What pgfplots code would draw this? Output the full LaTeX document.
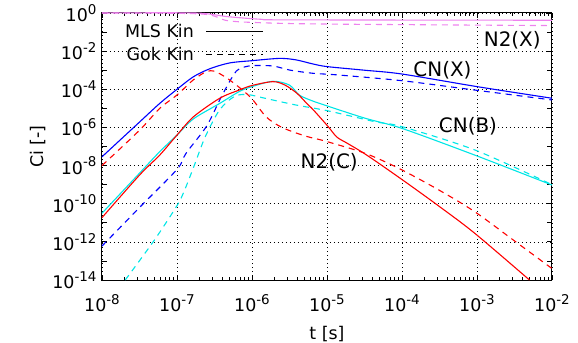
\documentclass[border=0pt]{standalone}
\usepackage{fontspec}
\setmainfont{DejaVu Sans}
\usepackage{pgfplots}
\pgfplotsset{compat=1.18}
\definecolor{cblue}{RGB}{0,0,255}
\definecolor{ccyan}{RGB}{0,230,230}
\definecolor{cred}{RGB}{255,0,0}
\definecolor{cviolet}{RGB}{238,130,238}
\newcommand\tl[1]{10\raisebox{0.42em}{\fontsize{13.5}{14}\selectfont #1}}
\begin{document}
\begin{tikzpicture}[font=\fontsize{17.5}{20}\selectfont]
\begin{axis}[
  scale only axis, width=450bp, height=267bp,
  xmode=log, ymode=log,
  xmin=1e-8, xmax=1e-2, ymin=1e-14, ymax=1,
  xtick={1e-8,1e-7,1e-6,1e-5,1e-4,1e-3,1e-2},
  xticklabels={\tl{-8},\tl{-7},\tl{-6},\tl{-5},\tl{-4},\tl{-3},\tl{-2}},
  ytick={1e-14,1e-12,1e-10,1e-8,1e-6,1e-4,1e-2,1},
  yticklabels={\tl{-14},\tl{-12},\tl{-10},\tl{-8},\tl{-6},\tl{-4},\tl{-2},\tl{0}},
  extra y ticks={1e-13,1e-11,1e-9,1e-7,1e-5,1e-3,1e-1},
  extra y tick labels={},
  extra y tick style={grid=none},
  tick align=inside, major tick length=5bp, minor tick length=3bp,
  every tick/.style={black, line width=0.8bp},
  xmajorgrids, ymajorgrids,
  grid style={black, line width=0.7bp, dash pattern=on 0.8bp off 3.2bp},
  axis line style={line width=1bp},
  tick label style={font=\fontsize{17.5}{20}\selectfont},
  x tick label style={yshift=-11bp},
  y tick label style={xshift=-2bp},
  label style={font=\fontsize{17.5}{20}\selectfont},
  xlabel={t [s]}, ylabel={Ci [-]},
  x label style={yshift=-7bp},
  clip=false,
  legend plot pos=right, legend cell align=right,
  legend style={draw=none, fill=none, inner sep=0pt, at={(axis description cs:0,1)}, anchor=north west, xshift=21bp, yshift=-9bp, row sep=4bp, font=\fontsize{17.5}{20}\selectfont,
    /tikz/every odd column/.append style={column sep=10bp}},
  legend image code/.code={\draw[#1] (0bp,0bp) -- (57bp,0bp);},
  every axis plot/.append style={line width=1.1bp},
]
\addlegendimage{black, solid, line width=1bp}
\addlegendentry{MLS Kin}
\addlegendimage{black, dash pattern=on 6bp off 5bp, line width=1bp}
\addlegendentry{Gok Kin}

% N2(X)
\addplot[cviolet, smooth, tension=0.5, forget plot] coordinates {
(1e-8,1) (1.738e-7,1) (4.677e-7,0.6457) (1.318e-6,0.4677) (3.162e-6,0.4365) (1e-2,0.4169)};
\addplot[cviolet, smooth, tension=0.5, dash pattern=on 6bp off 5bp, forget plot] coordinates {
(1e-8,1) (2.089e-7,0.8913) (4.677e-7,0.3981) (1.318e-6,0.3090) (1e-5,0.2630) (1e-2,0.2188)};

% CN(X)
\addplot[cblue, smooth, tension=0.5, forget plot] coordinates {
(1e-8,2.884e-8) (3.162e-8,1.905e-6) (5.888e-8,1.820e-5) (1e-7,1e-4) (1.660e-7,4.571e-4)
(2.754e-7,1.202e-3) (5.012e-7,2.399e-3) (1e-6,3.162e-3) (2.344e-6,4.169e-3)
(3.890e-6,3.467e-3) (6.457e-6,2.138e-3) (1e-5,1.549e-3) (3.162e-5,1e-3)
(1e-4,6.310e-4) (1e-3,1.380e-4) (1e-2,3.388e-5)};
\addplot[cblue, smooth, tension=0.5, dash pattern=on 6bp off 5bp, forget plot] coordinates {
(1e-8,6.026e-13) (3.162e-8,6.310e-11) (1e-7,6.310e-9) (1.318e-7,4.365e-8) (2.455e-7,1.096e-6)
(3.715e-7,2.754e-5) (5.012e-7,2.512e-4) (6.166e-7,8.913e-4) (6.918e-7,1.259e-3)
(1e-6,1.738e-3) (1.905e-6,1.660e-3) (3.162e-6,1.023e-3) (6.457e-6,6.918e-4)
(1.413e-5,5.623e-4) (1e-4,2.818e-4) (9.333e-4,9.120e-5) (1e-2,2.754e-5)};

% CN(B)
\addplot[ccyan, smooth, tension=0.5, forget plot] coordinates {
(1e-8,3.162e-11) (3.162e-8,3.981e-9) (5.888e-8,5.370e-8) (1e-7,3.981e-7) (1.660e-7,2.818e-6)
(3.715e-7,1.820e-5) (6.761e-7,7.586e-5) (1e-6,1.380e-4) (1.905e-6,2.630e-4)
(3.162e-6,1.660e-4) (4.266e-6,5.012e-5) (6.310e-6,2.512e-5) (1e-5,1.349e-5)
(3.236e-5,3.020e-6) (1e-4,8.913e-7) (9.333e-4,3.548e-8) (1e-2,9.550e-10)};
\addplot[ccyan, smooth, tension=0.5, dash pattern=on 6bp off 5bp, forget plot] coordinates {
(2.042e-8,1e-14) (5.012e-8,1.259e-12) (1e-7,7.943e-11) (1.259e-7,5.012e-10) (1.698e-7,1e-8)
(2.344e-7,2.818e-7) (3.467e-7,5.623e-6) (4.677e-7,2.239e-5) (6.310e-7,4.786e-5)
(8.913e-7,5.248e-5) (1.413e-6,3.548e-5) (3.802e-6,1.514e-5) (1e-5,7.586e-6)
(4.365e-5,1.995e-6) (1e-4,1.096e-6) (9.333e-4,6.607e-8) (1e-2,1e-9)};

% N2(C)
\addplot[cred, smooth, tension=0.5, forget plot] coordinates {
(1e-8,1.862e-11) (3.162e-8,3.162e-9) (5.888e-8,3.548e-8) (1e-7,3.981e-7) (1.660e-7,3.631e-6)
(3.715e-7,3.388e-5) (6.761e-7,9.120e-5) (1e-6,1.585e-4) (1.905e-6,2.512e-4)
(2.754e-6,1.660e-4) (3.981e-6,6.166e-5) (5.370e-6,1.820e-5) (6.607e-6,8.128e-6)
(1.023e-5,1.175e-6) (1.349e-5,3.162e-7) (1.862e-5,1.479e-7) (3.388e-5,3.548e-8)
(1.023e-4,1.738e-9) (3.162e-4,7.079e-11) (9.333e-4,2.818e-12) (5.012e-3,1e-14)};
\addplot[cred, smooth, tension=0.5, dash pattern=on 6bp off 5bp, forget plot] coordinates {
(1e-8,1e-8) (3.162e-8,7.079e-7) (5.888e-8,1e-5) (1e-7,5.012e-5) (1.660e-7,3.162e-4)
(2.455e-7,8.318e-4) (3.162e-7,8.913e-4) (4.571e-7,3.981e-4) (6.761e-7,1.259e-4)
(1e-6,3.162e-5) (1.549e-6,3.548e-6) (2.512e-6,1e-6) (5.129e-6,3.548e-7)
(9.550e-6,1.905e-7) (3.236e-5,4.365e-8) (9.120e-5,7.079e-9) (3.162e-4,5.012e-10)
(9.333e-4,3.802e-11) (3.162e-3,1.122e-12) (1e-2,3.981e-14)};

\begin{scope}[font=\fontsize{20}{22}\selectfont]
\node at (axis cs:2.951e-3,3.802e-2) {N2(X)};
\node at (axis cs:3.467e-4,1.023e-3) {CN(X)};
\node at (axis cs:7.586e-4,1.096e-6) {CN(B)};
\node at (axis cs:1.072e-5,1.585e-8) {N2(C)};
\end{scope}
\end{axis}
\pgfresetboundingbox
\path[use as bounding box] (-102bp,-63bp) rectangle (476bp,280bp);
\end{tikzpicture}
\end{document}
